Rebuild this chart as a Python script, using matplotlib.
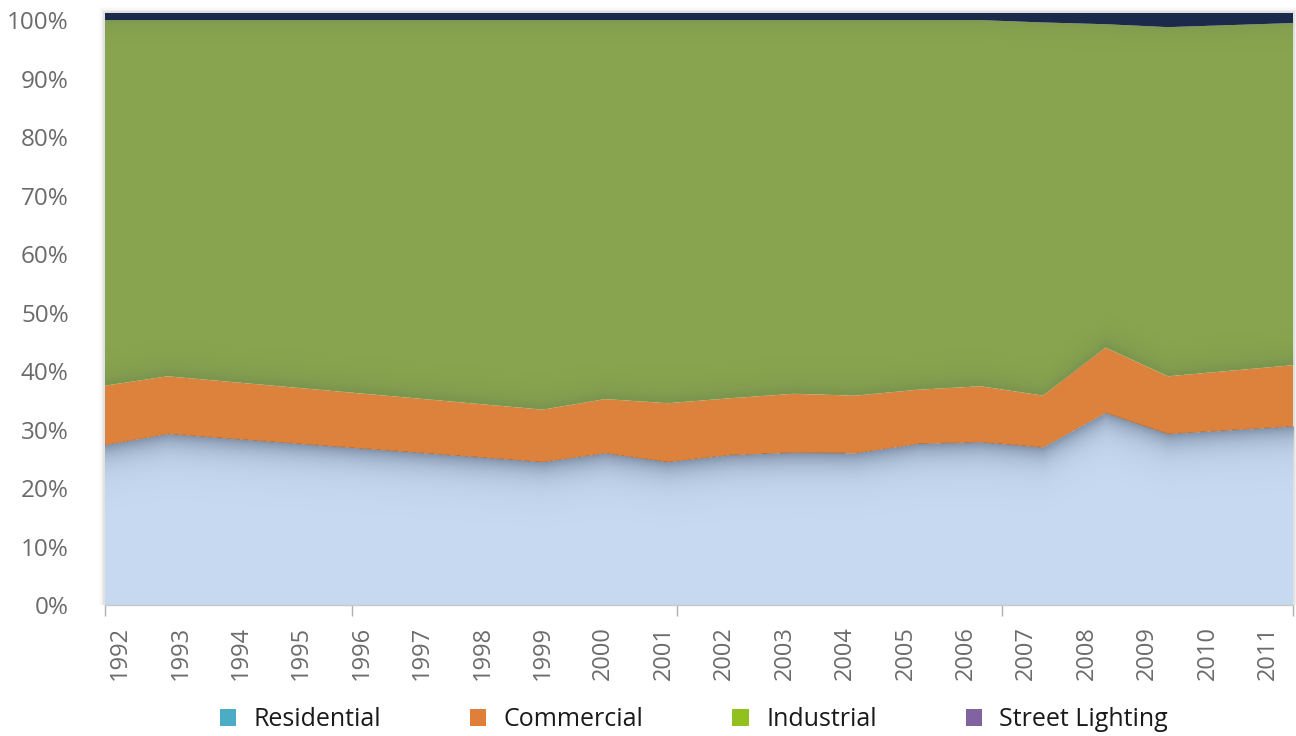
import numpy as np
import matplotlib
matplotlib.use("Agg")
import matplotlib.pyplot as plt
from matplotlib.patches import Patch, Rectangle

# ---------------- data ----------------
years = list(range(1992, 2012))
year_labels = [str(y) for y in years]
series_names = ["Residential", "Commercial", "Industrial", "Street Lighting"]

residential = [27.3, 29.2, 28.4, 27.6, 26.8, 26.0, 25.2, 24.4, 25.9, 24.4,
               25.6, 26.0, 25.9, 27.5, 27.8, 26.9, 32.8, 29.2, 29.85, 30.5]
commercial = [10.2, 9.9, 9.75, 9.6, 9.45, 9.3, 9.15, 9.0, 9.3, 10.1,
              9.75, 10.1, 9.9, 9.3, 9.6, 8.9, 11.2, 9.9, 10.2, 10.5]
industrial = [62.5, 60.9, 61.85, 62.8, 63.75, 64.7, 65.65, 66.6, 64.8, 65.5,
              64.65, 63.9, 64.2, 63.2, 62.6, 63.8, 55.3, 59.7, 59.1, 58.5]
street_lighting = [1.3, 1.3, 1.3, 1.3, 1.3, 1.3, 1.3, 1.3, 1.3, 1.3,
                   1.3, 1.3, 1.3, 1.3, 1.3, 1.7, 2.0, 2.5, 2.15, 1.8]

y_ticks = [0, 10, 20, 30, 40, 50, 60, 70, 80, 90, 100]

# ---------------- style ----------------
area_colors = ["#c6d9f0", "#dc823d", "#88a44f", "#1b2a4a"]
legend_colors = ["#4bacc6", "#e07f3a", "#92c11f", "#8064a2"]
tick_color = "#6b6b6b"
FONT = ["Open Sans", "DejaVu Sans"]
plt.rcParams["font.family"] = FONT

fig = plt.figure(figsize=(12.96, 7.36), dpi=100)
ax_pos = [0.081, 0.178, 0.9167, 0.805]

# soft shadow around plot area (drawn behind the axes)
for i, a in enumerate([0.05, 0.035, 0.02, 0.01]):
    d = (i + 1) * 1.5
    fig.patches.append(Rectangle((ax_pos[0] - d / 1296, ax_pos[1]),
                                 ax_pos[2] + 2 * d / 1296, ax_pos[3] + d / 736,
                                 transform=fig.transFigure, facecolor="black",
                                 alpha=a, edgecolor="none", zorder=-5))

ax = fig.add_axes(ax_pos)
ax.set_zorder(1)
x = np.arange(len(years))
ax.stackplot(x, residential, commercial, industrial, street_lighting,
             colors=area_colors, linewidth=0, antialiased=True, zorder=1)

# subtle drop shadows below/above the layer boundaries
res = np.array(residential)
com_top = res + np.array(commercial)
ind_top = com_top + np.array(industrial)
top = ind_top + np.array(street_lighting)
ymax = float(top.max())
xs = np.linspace(0, len(years) - 1, 1400)
ys = np.linspace(0, ymax, 900)
XX, YY = np.meshgrid(xs, ys)
r_i = np.interp(xs, x, res)[None, :]
c_i = np.interp(xs, x, com_top)[None, :]
n_i = np.interp(xs, x, ind_top)[None, :]
alpha = np.zeros_like(YY)
below = YY < r_i
alpha = np.where(below, 0.42 * np.exp(-np.clip(r_i - YY, 0, None) / 2.4), alpha)
above_c = (YY > c_i) & (YY < n_i)
alpha = np.where(above_c, np.maximum(alpha, 0.14 * np.exp(-np.clip(YY - c_i, 0, None) / 1.8)), alpha)
below_n = (YY < n_i) & (YY > c_i)
alpha = np.where(below_n, np.maximum(alpha, 0.08 * np.exp(-np.clip(n_i - YY, 0, None) / 1.5)), alpha)
img = np.zeros(YY.shape + (4,))
img[..., 0] = 0.12
img[..., 1] = 0.18
img[..., 2] = 0.28
img[..., 3] = alpha
ax.imshow(img, extent=(0, len(years) - 1, 0, ymax), origin="lower",
          aspect="auto", interpolation="bilinear", zorder=2)

ax.set_xlim(0, len(years) - 1)
ax.set_ylim(0, ymax)

# y axis
ax.set_yticks(y_ticks)
ax.set_yticklabels([f"{v}%" for v in y_ticks], color=tick_color, fontsize=17.5)
ax.tick_params(axis="y", length=0, pad=26)

# x axis: tick marks (major, unlabeled) and year labels (minor)
ax.set_xticks([0, 3.95, 9.15, 14.35, 19])
ax.set_xticklabels([])
ax.tick_params(axis="x", which="major", length=8, width=1, color="#b0b0b0",
               direction="out")
label_pos = np.linspace(0.24, 18.6, len(years))
ax.set_xticks(label_pos, minor=True)
ax.set_xticklabels(year_labels, minor=True, rotation=90, color=tick_color,
                   fontsize=17)
ax.tick_params(axis="x", which="minor", length=0, pad=15)

for s in ["top", "right", "left"]:
    ax.spines[s].set_visible(False)
ax.spines["bottom"].set_color("#c8c8c8")
ax.spines["bottom"].set_linewidth(1)
ax.spines["bottom"].set_zorder(3)

# legend
handles = [Patch(facecolor=c, edgecolor="none", label=n)
           for c, n in zip(legend_colors, series_names)]
fig.legend(handles=handles, loc="center", bbox_to_anchor=(0.5355, 0.022),
           ncol=4, frameon=False, fontsize=18, handlelength=0.65,
           handleheight=0.65, handletextpad=0.7, columnspacing=3.55,
           labelcolor="#1a1a1a")

fig.savefig("out.png", dpi=100, facecolor="white")
